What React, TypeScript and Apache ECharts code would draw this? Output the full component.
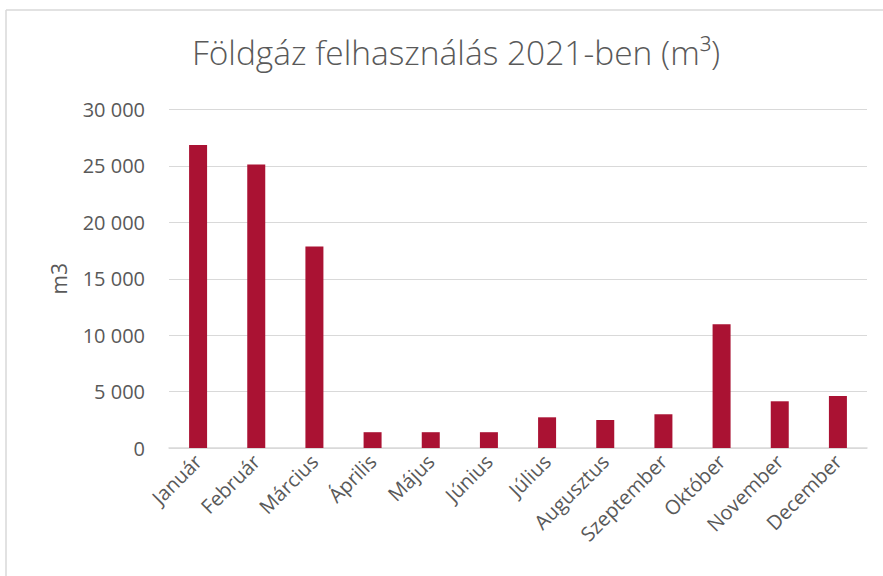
import React, { useEffect, useRef } from "react";
import * as echarts from "echarts";

const months = [
  "Január", "Február", "Március", "Április", "Május", "Június",
  "Július", "Augusztus", "Szeptember", "Október", "November", "December",
];
const gasUsage = [26850, 25120, 17850, 1400, 1400, 1400, 2720, 2480, 2990, 10970, 4140, 4610];
const yTicks = { min: 0, max: 30000, interval: 5000 };
const titleText = "Földgáz felhasználás 2021-ben (m³)";
const yAxisName = "m3";

const fmt = (v: number) => String(v).replace(/\B(?=(\d{3})+(?!\d))/g, " ");

export default function App() {
  const ref = useRef<HTMLDivElement>(null);
  useEffect(() => {
    if (!ref.current) return;
    const chart = echarts.init(ref.current, undefined, { renderer: "svg" });
    const textColor = "#595959";
    const font = "'Open Sans', sans-serif";
    chart.setOption({
      animation: false,
      backgroundColor: "#ffffff",
      title: {
        text: titleText,
        left: 451,
        textAlign: "center",
        top: 30,
        textStyle: { fontFamily: font, fontSize: 33.5, fontWeight: 300, color: textColor },
      },
      graphic: [
        { type: "line", shape: { x1: 6, y1: 10, x2: 883, y2: 10 }, style: { stroke: "#d9d9d9", lineWidth: 1.5 } },
        { type: "line", shape: { x1: 6, y1: 10, x2: 6, y2: 576 }, style: { stroke: "#d9d9d9", lineWidth: 1.5 } },
      ],
      grid: { left: 169, right: 16, top: 109.5, bottom: 128, containLabel: false },
      xAxis: {
        type: "category",
        data: months,
        axisLine: { lineStyle: { color: "#d9d9d9", width: 1.5 } },
        axisTick: { show: false },
        axisLabel: {
          rotate: 45,
          interval: 0,
          margin: 10,
          color: textColor,
          fontFamily: font,
          fontSize: 20,
        },
      },
      yAxis: {
        type: "value",
        min: yTicks.min,
        max: yTicks.max,
        interval: yTicks.interval,
        name: yAxisName,
        nameLocation: "middle",
        nameGap: 100,
        nameRotate: 90,
        nameTextStyle: { color: textColor, fontFamily: font, fontSize: 21 },
        axisLine: { show: false },
        axisTick: { show: false },
        splitLine: { lineStyle: { color: "#d9d9d9", width: 1 } },
        axisLabel: {
          formatter: (v: number) => fmt(v),
          margin: 24,
          color: textColor,
          fontFamily: font,
          fontSize: 20,
        },
      },
      series: [
        {
          type: "bar",
          data: gasUsage,
          barWidth: 18,
          itemStyle: { color: "#aa1233" },
        },
      ],
    });
    return () => chart.dispose();
  }, []);
  return (
    <div
      ref={ref}
      style={{ position: "fixed", left: 0, top: 0, width: 883, height: 576 }}
    />
  );
}
